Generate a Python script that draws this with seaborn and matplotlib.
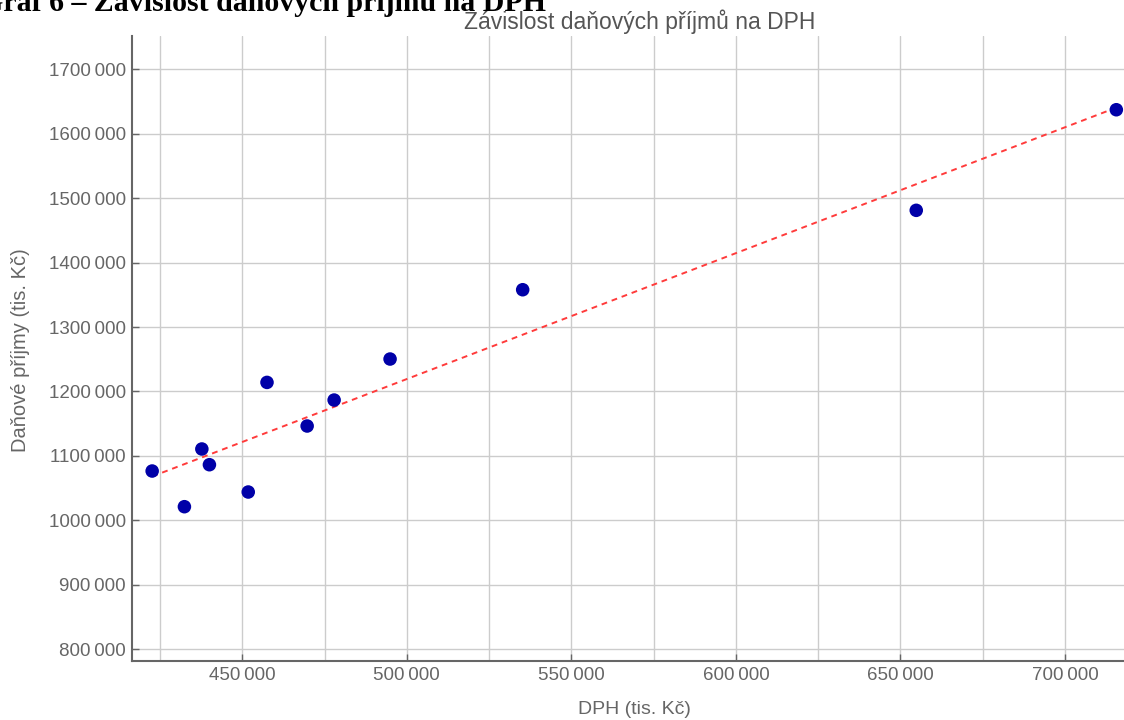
import matplotlib
matplotlib.use("Agg")
import matplotlib.pyplot as plt
import seaborn as sns
import pandas as pd
from matplotlib.ticker import FuncFormatter, MultipleLocator

dph = [422600, 432400, 437700, 440000, 451800, 457500, 469700, 477900, 494900, 535200, 654800, 715600]
prijmy = [1076400, 1021000, 1110600, 1086200, 1043800, 1214000, 1146300, 1186600, 1250300, 1357900, 1481200, 1637400]

title = "Závislost daňových příjmů na DPH"
caption = "Graf 6 – Závislost daňových příjmů na DPH"
xlabel = "DPH (tis. Kč)"
ylabel = "Daňové příjmy (tis. Kč)"

df = pd.DataFrame({"dph": dph, "prijmy": prijmy})

sns.set_theme(style="white")
plt.rcParams["font.family"] = ["Liberation Sans", "DejaVu Sans"]

W, H = 1124, 720
fig = plt.figure(figsize=(W / 100, H / 100), dpi=100)
ax = fig.add_axes([132 / W, (H - 661) / H, (1132 - 132) / W, (661 - 36) / H])

grey = "#666666"
ax.set_axisbelow(True)
ax.grid(True, color="#cccccc", linewidth=1.0)

sns.regplot(data=df, x="dph", y="prijmy", ax=ax, ci=None, scatter=False,
            line_kws=dict(color="#ff3b3b", linestyle=(0, (3, 2.5)), linewidth=1.4))
sns.scatterplot(data=df, x="dph", y="prijmy", ax=ax, color="#0000a8", s=95,
                edgecolor="none", zorder=3)

ax.set_xlim(416474, 720365)
ax.set_ylim(781400, 1751900)

ax.xaxis.set_major_locator(MultipleLocator(50000))
ax.xaxis.set_minor_locator(MultipleLocator(25000))
ax.yaxis.set_major_locator(MultipleLocator(100000))
ax.grid(True, which="minor", axis="x", color="#cccccc", linewidth=1.0)


def fmt(v, pos):
    s = str(int(round(v)))
    return s[:-3] + "\u2009" + s[-3:]


ax.xaxis.set_major_formatter(FuncFormatter(fmt))
ax.yaxis.set_major_formatter(FuncFormatter(fmt))

ax.tick_params(axis="both", which="major", direction="in", length=5, width=1,
               color=grey, labelcolor=grey, labelsize=13.5, pad=4.5)
ax.tick_params(axis="x", which="minor", length=0)
ax.tick_params(left=True, bottom=True)

for side in ["top", "right"]:
    ax.spines[side].set_visible(False)
for side in ["left", "bottom"]:
    ax.spines[side].set_color(grey)
    ax.spines[side].set_linewidth(1.5)

ax.set_xlabel("")
ax.set_ylabel("")
fig.text(634 / W, 1 - 710 / H, xlabel, ha="center", va="center", color=grey, fontsize=14)
fig.text(21 / W, 1 - 350 / H, ylabel, ha="center", va="center", rotation=90,
         color=grey, fontsize=14.5)
fig.text(640 / W, 1 - 22 / H, title, ha="center", va="center", color="#555555", fontsize=16.5)
fig.text(-20 / W, 1 - 11 / H, caption, ha="left", va="baseline", color="black",
         fontsize=21.5, fontweight="bold", family=["Liberation Serif", "DejaVu Serif"])

fig.savefig("out.png", dpi=100)
